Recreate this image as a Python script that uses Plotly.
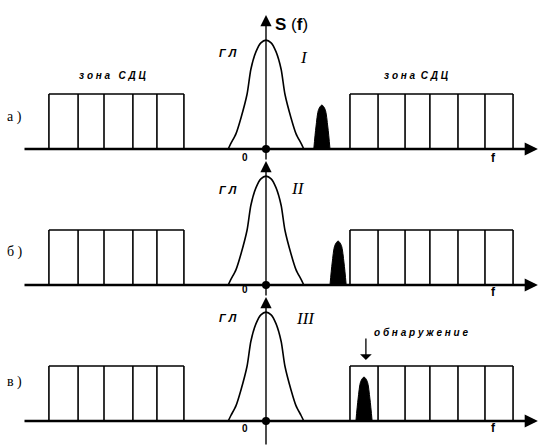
import plotly.graph_objects as go

# ---------------- data (frequency f in cell units, amplitude in box-height units) ----
panels = ["а )", "б )", "в )"]
lobe_labels = ["I", "II", "III"]

left_zone_edges = [-8.04, -6.96, -6.0, -4.93, -4.04, -3.04]
right_zone_edges = [3.11, 4.15, 5.15, 6.07, 7.11, 8.11, 9.15]
zone_level = 1.0

# main lobe (ГЛ)
main_f = [-1.4, -1.3, -1.11, -0.93, -0.7, -0.56, -0.37, -0.19, 0.0,
          0.19, 0.37, 0.56, 0.7, 0.93, 1.11, 1.3, 1.4]
main_s = [0.0, 0.1, 0.28, 0.56, 1.0, 1.45, 1.77, 1.93, 1.98,
          1.93, 1.77, 1.45, 1.0, 0.56, 0.28, 0.1, 0.0]

# small target peak shape (offsets from its centre) and centres per panel
target_df = [-0.3, -0.22, -0.12, 0.0, 0.12, 0.22, 0.3]
target_s = [0.0, 0.4, 0.72, 0.8, 0.72, 0.4, 0.0]
target_centres = [2.07, 2.67, 3.63]

axis_f_start = -9.0
axis_f_end = 10.07

# ------------------------------------------------------------------------------
W, H = 539, 446
fig = go.Figure()

yaxes = ["y", "y2", "y3"]
domains = [[0.6413, 1.0], [0.3274, 0.6413], [0.0, 0.3274]]
ranges = [[-0.2, 2.709], [-0.2727, 2.2727], [-0.4545, 2.2]]
arrow_tip = [2.436, 2.255, 2.2545]
arrow_tail = [-0.218, -0.218, -0.4545]

for i, ya in enumerate(yaxes):
    for edges in (left_zone_edges, right_zone_edges):
        xs, ys = [], []
        for e in edges:
            xs += [e, e, None]
            ys += [0, zone_level, None]
        xs += [edges[0], edges[-1]]
        ys += [zone_level, zone_level]
        fig.add_trace(go.Scatter(x=xs, y=ys, mode="lines", yaxis=ya,
                                 line=dict(color="black", width=1.6),
                                 hoverinfo="skip", showlegend=False))
    fig.add_trace(go.Scatter(x=main_f, y=main_s, mode="lines", yaxis=ya,
                             line=dict(color="black", width=1.6, shape="spline", smoothing=0.7),
                             hoverinfo="skip", showlegend=False))
    c = target_centres[i]
    fig.add_trace(go.Scatter(x=[c + d for d in target_df], y=target_s, mode="lines",
                             yaxis=ya, fill="toself", fillcolor="black",
                             line=dict(color="black", width=1, shape="spline", smoothing=0.8),
                             hoverinfo="skip", showlegend=False))
    fig.add_trace(go.Scatter(x=[0], y=[0], mode="markers", yaxis=ya,
                             marker=dict(color="black", size=8),
                             hoverinfo="skip", showlegend=False))

    yref = ya
    fig.add_annotation(x=axis_f_end, y=0, ax=axis_f_start, ay=0, xref="x", yref=yref,
                       axref="x", ayref=yref, text="", showarrow=True, arrowhead=2,
                       arrowsize=1.1, arrowwidth=2.4, arrowcolor="black", standoff=0)
    fig.add_annotation(x=0, y=arrow_tip[i], ax=0, ay=arrow_tail[i], xref="x", yref=yref,
                       axref="x", ayref=yref, text="", showarrow=True, arrowhead=2,
                       arrowsize=1.6, arrowwidth=1.4, arrowcolor="black", standoff=0)

sans = "Liberation Sans Narrow, Liberation Sans, Arial"
serif = "Liberation Serif, Times New Roman"

def txt(x, y, yref, text, size, family=sans, xanchor="center"):
    fig.add_annotation(x=x, y=y, xref="x", yref=yref, text=text, showarrow=False,
                       xanchor=xanchor, yanchor="middle",
                       font=dict(family=family, size=size, color="black"))

txt(0.26, 2.27, "y", "<b>S</b> (<b>f</b>)", 17, xanchor="left")
txt(-5.67, 1.345, "y", "<b><i>з о н а   С Д Ц</i></b>", 10)
txt(5.59, 1.345, "y", "<b><i>з о н а  С Д Ц</i></b>", 10)

lbl_y = [0.58, 0.6, 0.71]
gl_y = [1.745, 1.727, 1.87]
rom_pos = [(1.41, 1.67), (1.19, 1.76), (1.48, 1.87)]
zero_y = [-0.16, -0.08, -0.13]
f_y = [-0.17, -0.13, -0.12]
for i, ya in enumerate(yaxes):
    txt(-9.3, lbl_y[i], ya, panels[i], 14, family=serif)
    txt(-1.41, gl_y[i], ya, "<b><i>Г Л</i></b>", 11)
    txt(rom_pos[i][0], rom_pos[i][1], ya, "<i>" + lobe_labels[i] + "</i>", 17, family=serif)
    txt(-0.78, zero_y[i], ya, "<b>0</b>", 10)
    txt(8.41, f_y[i], ya, "<b>f</b>", 12)

txt(5.74, 1.6, "y3", "<b><i>о б н а р у ж е н и е</i></b>", 10)
fig.add_annotation(x=3.7, y=1.109, ax=3.7, ay=1.527, xref="x", yref="y3",
                   axref="x", ayref="y3", text="", showarrow=True, arrowhead=1,
                   arrowsize=1.5, arrowwidth=1.3, arrowcolor="black", standoff=0)

layout_axes = {}
layout_axes["xaxis"] = dict(range=[-266 / 27, 273 / 27], visible=False, fixedrange=True)
for i, ya in enumerate(yaxes):
    key = "yaxis" if i == 0 else f"yaxis{i+1}"
    layout_axes[key] = dict(range=ranges[i], domain=domains[i], visible=False,
                            fixedrange=True, anchor="x")

fig.update_layout(width=W, height=H, margin=dict(l=0, r=0, t=0, b=0),
                  plot_bgcolor="white", paper_bgcolor="white", showlegend=False,
                  **layout_axes)
fig.write_html("out.html", config={"displayModeBar": False})

with open("out.html", encoding="utf-8") as fh:
    html = fh.read()
html = html.replace("<head>", "<head><style>html,body{margin:0;padding:0;overflow:hidden;}</style>", 1)
with open("out.html", "w", encoding="utf-8") as fh:
    fh.write(html)
